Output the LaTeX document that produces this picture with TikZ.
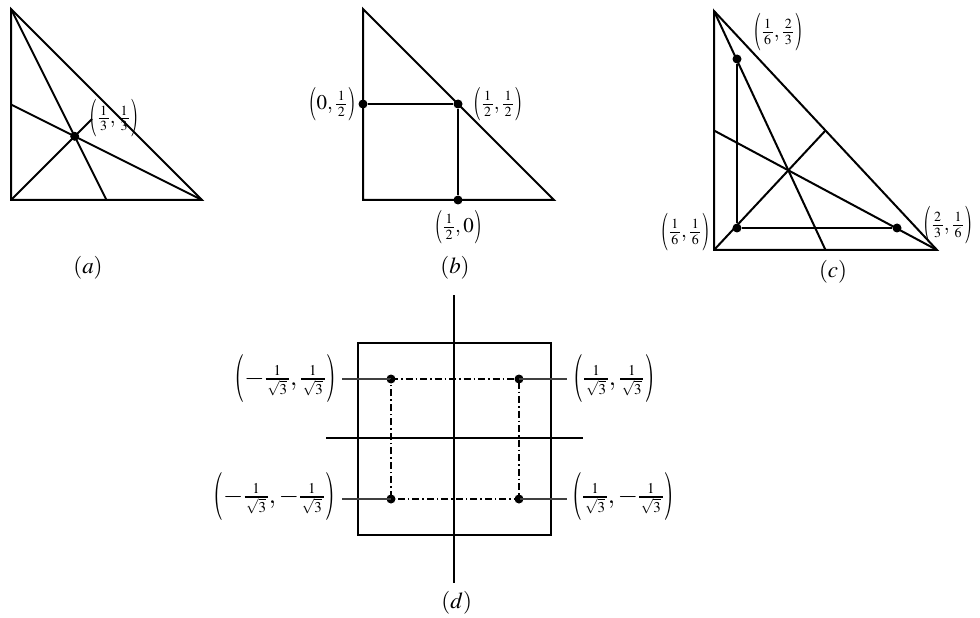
\documentclass[tikz,border=0pt]{standalone}
\usepackage{mathptmx}
\usepackage{graphicx}
\DeclareMathSizes{21}{21}{14}{10}
\DeclareMathSizes{26}{26}{15}{11}
\newcommand{\tallLP}[1]{\mathopen{\vcenter{\hbox{\scalebox{1}[#1]{$($}}}}}
\newcommand{\tallRP}[1]{\mathclose{\vcenter{\hbox{\scalebox{1}[#1]{$)$}}}}}
\newcommand{\isq}{\frac{1}{\,\sqrt{3}\,}}
\newcommand{\fr}[2]{\frac{\,#1\,}{\,#2\,}}
\begin{document}
\begin{tikzpicture}[x=1bp,y=-1bp,
  ln/.style={line width=2bp},
  thinln/.style={line width=1.2bp, black!75},
  dd/.style={line width=2bp, dash pattern=on 7bp off 3bp on 1.5bp off 3bp},
  dot/.style={circle, fill=black, inner sep=0pt, minimum size=9bp},
  lbl/.style={font=\fontsize{21}{24}\selectfont, inner sep=0pt},
  lbld/.style={font=\fontsize{26}{30}\selectfont, inner sep=0pt},
  capt/.style={font=\fontsize{23}{27}\selectfont, inner sep=0pt}]
\useasboundingbox (0,0) rectangle (980,618);
% ---------- (a)
\coordinate (aT) at (11,9);
\coordinate (aL) at (11,200);
\coordinate (aR) at (202,200);
\coordinate (aMb) at (106.5,200);
\coordinate (aMl) at (11,104.5);
\coordinate (aE) at (92,119);
\draw[ln] (aT) -- (aL) -- (aR) -- cycle;
\draw[ln] (aT) -- (aMb);
\draw[ln] (aR) -- (aMl);
\draw[ln] (aL) -- (aE);
\node[dot] (aC) at (74.7,136.3) {};
\node[lbl, anchor=west] (aLab) at (89,118.5) {$\tallLP{1.8}\fr{1}{3},\fr{1}{3}\tallRP{1.8}$};
\node[capt] (aCap) at (88,268) {$(a)$};
% ---------- (b)
\coordinate (bT) at (363,9);
\coordinate (bL) at (363,200);
\coordinate (bR) at (554,200);
\draw[ln] (bT) -- (bL) -- (bR) -- cycle;
\node[dot] (b1) at (363,104) {};
\node[dot] (b2) at (458,104) {};
\node[dot] (b3) at (458,200) {};
\draw[ln] (b1) -- (b2) -- (b3);
\node[lbl, anchor=east] (b1Lab) at (356,104) {$\tallLP{1.6}0,\fr{1}{2}\tallRP{1.6}$};
\node[lbl, anchor=west] (b2Lab) at (473,104) {$\tallLP{1.6}\fr{1}{2},\fr{1}{2}\tallRP{1.6}$};
\node[lbl] (b3Lab) at (458.3,227) {$\tallLP{1.6}\fr{1}{2},0\tallRP{1.6}$};
\node[capt] (bCap) at (455,268) {$(b)$};
% ---------- (c)
\coordinate (cT) at (714,11);
\coordinate (cL) at (714,250);
\coordinate (cR) at (937,250);
\coordinate (cH) at (825.5,130.5);
\coordinate (cLm) at (714,130.5);
\coordinate (cB) at (825.5,250);
\draw[ln] (cT) -- (cL) -- (cR) -- cycle;
\draw[ln] (cT) -- (cB);
\draw[ln] (cLm) -- (cR);
\draw[ln] (cL) -- (cH);
\node[dot] (c1) at (737,59) {};
\node[dot] (c2) at (737,228) {};
\node[dot] (c3) at (897,228) {};
\draw[ln] (c1) -- (c2) -- (c3);
\node[lbl] (c1Lab) at (778,32) {$\tallLP{1.8}\fr{1}{6},\fr{2}{3}\tallRP{1.8}$};
\node[lbl, anchor=east] (c2Lab) at (710,232) {$\tallLP{1.8}\fr{1}{6},\fr{1}{6}\tallRP{1.8}$};
\node[lbl, anchor=west] (c3Lab) at (923,225) {$\tallLP{1.8}\fr{2}{3},\fr{1}{6}\tallRP{1.8}$};
\node[capt] (cCap) at (833,272) {$(c)$};
% ---------- (d)
\coordinate (dV1) at (454,295);
\coordinate (dV2) at (454,583);
\coordinate (dH1) at (326,438);
\coordinate (dH2) at (583,438);
\draw[ln] (358,343) rectangle (551,535);
\draw[ln] (dV1) -- (dV2);
\draw[ln] (dH1) -- (dH2);
\node[dot] (d1) at (391,379) {};
\node[dot] (d2) at (519,379) {};
\node[dot] (d3) at (391,499) {};
\node[dot] (d4) at (519,499) {};
\coordinate (l1) at (342,379);
\coordinate (l2) at (567,379);
\coordinate (l3) at (342,499);
\coordinate (l4) at (567,499);
\draw[thinln] (l1) -- (d1.center);
\draw[thinln] (d2.center) -- (l2);
\draw[thinln] (l3) -- (d3.center);
\draw[thinln] (d4.center) -- (l4);
\draw[dd] (d1.center) -- (d2.center) -- (d4.center) -- (d3.center) -- cycle;
\node[lbld, anchor=east] (d1Lab) at (336,379) {$\tallLP{1.85}-\isq,\isq\tallRP{1.85}$};
\node[lbld, anchor=west] (d2Lab) at (573,379) {$\tallLP{1.85}\isq,\isq\tallRP{1.85}$};
\node[lbld, anchor=east] (d3Lab) at (335,497) {$\tallLP{1.85}-\isq,-\isq\tallRP{1.85}$};
\node[lbld, anchor=west] (d4Lab) at (572,497) {$\tallLP{1.85}\isq,-\isq\tallRP{1.85}$};
\node[capt] (dCap) at (456.7,603) {$(d)$};
\end{tikzpicture}
\end{document}
